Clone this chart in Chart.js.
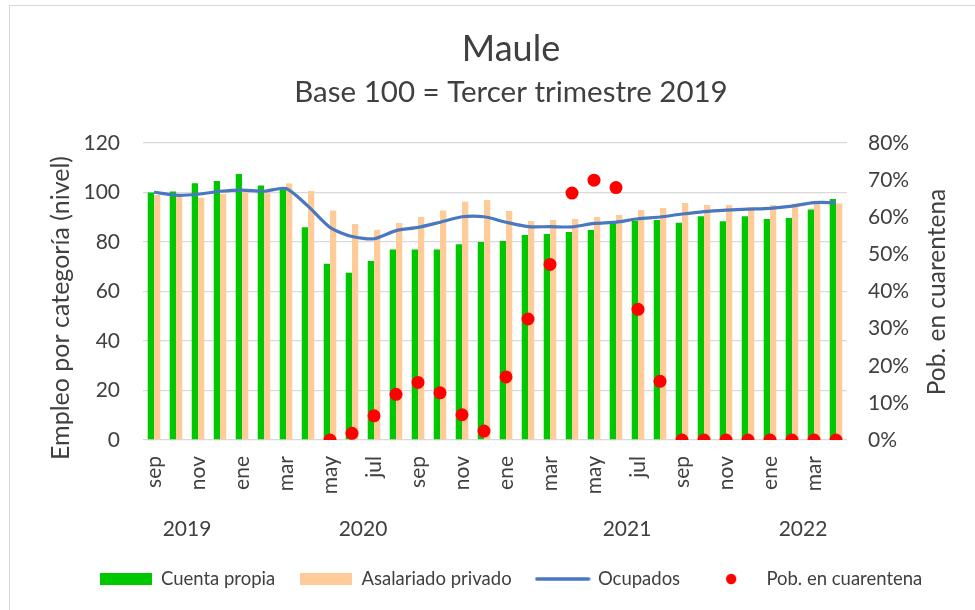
<!DOCTYPE html>
<html><head><meta charset="utf-8">
<script src="https://cdn.jsdelivr.net/npm/chart.js@4.4.1/dist/chart.umd.min.js"></script>
<style>
html,body{margin:0;padding:0;background:#fff;overflow:hidden;}
#frame{position:absolute;left:9px;top:5px;width:1000px;height:700px;border:1px solid #d9d9d9;box-sizing:border-box;}
#wrap{position:absolute;left:0;top:0;width:975px;height:610px;}
</style></head><body>
<div id="frame"></div>
<div id="wrap"><canvas id="c" width="975" height="610"></canvas></div>
<script>
// ---- data ----
const months = ['sep','oct','nov','dic','ene','feb','mar','abr','may','jun','jul','ago',
                'sep','oct','nov','dic','ene','feb','mar','abr','may','jun','jul','ago',
                'sep','oct','nov','dic','ene','feb','mar','abr'];
const yearLabels = ['2019','2020','2021','2022'];
const yearGroupSizes = [4, 12, 12, 4];
const cuentaPropia = [100, 100.4, 103.7, 104.6, 107.5, 102.8, 101.3, 86, 71.2, 67.6, 72.3, 77,
                      77, 77, 79.1, 80, 80.4, 82.8, 83.2, 84, 84.8, 87.5, 88.6, 88.9,
                      87.8, 90.4, 88.4, 90.4, 89.3, 89.7, 93.1, 97.4];
const asalariadoPrivado = [99, 98.6, 97.9, 99.4, 99.9, 99.7, 103.6, 100.6, 92.7, 87.3, 85, 87.7,
                           90.1, 92.7, 96.3, 97, 92.5, 88.5, 88.9, 89.3, 90.1, 90.9, 92.9, 93.7,
                           95.8, 95, 95, 94.1, 95, 95.5, 96.3, 95.6];
const ocupados = [100.1, 98.9, 99.3, 100.5, 101, 100.5, 101.6, 94.5, 85.9, 82.2, 81.3, 84.6,
                  85.9, 88, 90.2, 90.2, 88, 86.2, 86.2, 86.1, 87.5, 88, 89.4, 90.1,
                  91.3, 92.3, 92.9, 93.3, 93.6, 94.5, 95.9, 95.9];
const cuarentena = [null, null, null, null, null, null, null, null, 0, 1.8, 6.5, 12.3,
                    15.5, 12.7, 6.8, 2.4, 17, 32.6, 47.3, 66.5, 70, 68, 35.2, 15.8,
                    0, 0, 0, 0, 0, 0, 0, 0];
const leftTicks = [0, 20, 40, 60, 80, 100, 120];
const rightTicks = [0, 10, 20, 30, 40, 50, 60, 70, 80];
const seriesNames = ['Cuenta propia', 'Asalariado privado', 'Ocupados', 'Pob. en cuarentena'];
const leftTitle = 'Empleo por categoría (nivel)';
const rightTitle = 'Pob. en cuarentena';

// ---- helpers ----
const FONT = 'Lato';
const TXT = '#404040';
const GREEN = '#00C800', ORANGE = '#FFCC99', BLUE = '#4A78C0', RED = '#FF0000';

// year group centers in category units
const yearCenters = [];
{ let acc = 0; yearGroupSizes.forEach(n => { yearCenters.push(acc + n / 2); acc += n; }); }

function swatch(w, h, draw) {
  const cv = document.createElement('canvas'); cv.width = w; cv.height = h;
  draw(cv.getContext('2d')); return cv;
}
const imgGreen = swatch(52, 12, c => { c.fillStyle = GREEN; c.fillRect(0, 0, 52, 12); });
const imgOrange = swatch(52, 12, c => { c.fillStyle = ORANGE; c.fillRect(0, 0, 52, 12); });
const imgLine = swatch(56, 6, c => { c.strokeStyle = BLUE; c.lineWidth = 3.3; c.lineCap = 'round';
  c.beginPath(); c.moveTo(2, 3); c.lineTo(54, 3); c.stroke(); });
const imgDot = swatch(12, 12, c => { c.fillStyle = RED; c.beginPath(); c.arc(6, 6, 5.2, 0, Math.PI * 2); c.fill(); });

const axisTitles = {
  id: 'axisTitles',
  afterDraw(chart) {
    const ctx = chart.ctx;
    ctx.save();
    ctx.fillStyle = TXT;
    ctx.font = '25px ' + FONT;
    ctx.textAlign = 'center'; ctx.textBaseline = 'middle';
    ctx.translate(61, 308); ctx.rotate(-Math.PI / 2);
    ctx.fillText(leftTitle, 0, 0);
    ctx.restore();
    ctx.save();
    ctx.fillStyle = TXT;
    ctx.font = '24.5px ' + FONT;
    ctx.textAlign = 'center'; ctx.textBaseline = 'middle';
    ctx.translate(937, 292); ctx.rotate(-Math.PI / 2);
    ctx.fillText(rightTitle, 0, 0);
    ctx.restore();
  }
};

new Chart(document.getElementById('c'), {
  data: {
    labels: months,
    datasets: [
      { type: 'line', label: seriesNames[3], data: cuarentena, yAxisID: 'y2', showLine: false,
        pointRadius: 6.5, pointHoverRadius: 6.5, pointBackgroundColor: RED, pointBorderWidth: 0,
        backgroundColor: RED, borderColor: RED, order: 0 },
      { type: 'line', label: seriesNames[2], data: ocupados, yAxisID: 'y', borderColor: BLUE,
        borderWidth: 3.2, pointRadius: 0, tension: 0.25, fill: false, order: 1 },
      { type: 'bar', label: seriesNames[0], data: cuentaPropia, yAxisID: 'y', backgroundColor: GREEN,
        categoryPercentage: 0.57, barPercentage: 1.0, order: 2 },
      { type: 'bar', label: seriesNames[1], data: asalariadoPrivado, yAxisID: 'y', backgroundColor: ORANGE,
        categoryPercentage: 0.57, barPercentage: 1.0, order: 3 }
    ]
  },
  options: {
    responsive: false, animation: false,
    layout: { padding: { left: 47, right: 0, top: 0, bottom: 11.75 } },
    plugins: {
      tooltip: { enabled: false },
      title: { display: true, text: 'Maule', color: TXT, font: { family: FONT, size: 36, weight: 'normal' },
               padding: { top: 27.5, bottom: 0 } },
      subtitle: { display: true, text: 'Base 100 = Tercer trimestre 2019', color: TXT,
                  font: { family: FONT, size: 29.5, weight: 'normal' }, padding: { top: 3.6, bottom: 33.3 } },
      legend: {
        position: 'bottom',
        labels: {
          usePointStyle: true, pointStyleWidth: 52, boxHeight: 12, padding: 25,
          color: TXT, font: { family: FONT, size: 18.5 },
          generateLabels: () => [
            { text: seriesNames[0], pointStyle: imgGreen, datasetIndex: 2, fontColor: TXT, lineWidth: 0, hidden: false },
            { text: seriesNames[1], pointStyle: imgOrange, datasetIndex: 3, fontColor: TXT, lineWidth: 0, hidden: false },
            { text: seriesNames[2], pointStyle: imgLine, datasetIndex: 1, fontColor: TXT, lineWidth: 0, hidden: false },
            { text: seriesNames[3], pointStyle: imgDot, datasetIndex: 0, fontColor: TXT, lineWidth: 0, hidden: false }
          ]
        }
      }
    },
    scales: {
      x: {
        type: 'category', offset: true,
        grid: { display: false, drawTicks: false }, border: { display: false },
        ticks: { autoSkip: false, minRotation: 90, maxRotation: 90, padding: 16, color: TXT,
                 font: { family: FONT, size: 21 },
                 callback: (v, i) => (i % 2 === 0 ? months[i] : '') },
        afterFit: s => { s.height = 65; }
      },
      xYear: {
        type: 'linear', position: 'bottom', min: 0, max: months.length,
        grid: { display: false, drawTicks: false }, border: { display: false },
        afterBuildTicks: s => { s.ticks = yearCenters.map(v => ({ value: v })); },
        ticks: { autoSkip: false, minRotation: 0, maxRotation: 0, padding: 12, color: TXT,
                 font: { family: FONT, size: 21 },
                 callback: v => { const k = yearCenters.indexOf(v); return k >= 0 ? yearLabels[k] : ''; } },
        afterFit: s => { s.height = 39.75; }
      },
      y: {
        position: 'left', min: 0, max: 120,
        afterBuildTicks: s => { s.ticks = leftTicks.map(v => ({ value: v })); },
        grid: { color: '#D9D9D9', lineWidth: 1.3, drawTicks: false }, border: { display: false },
        ticks: { padding: 23, color: TXT, font: { family: FONT, size: 21 } },
        afterFit: s => { s.width = 96; }
      },
      y2: {
        position: 'right', min: 0, max: 80,
        afterBuildTicks: s => { s.ticks = rightTicks.map(v => ({ value: v })); },
        grid: { display: false, drawTicks: false }, border: { display: false },
        ticks: { padding: 21, color: TXT, font: { family: FONT, size: 21 }, callback: v => v + '%' },
        afterFit: s => { s.width = 128; }
      }
    }
  },
  plugins: [axisTitles]
});
</script>
</body></html>
